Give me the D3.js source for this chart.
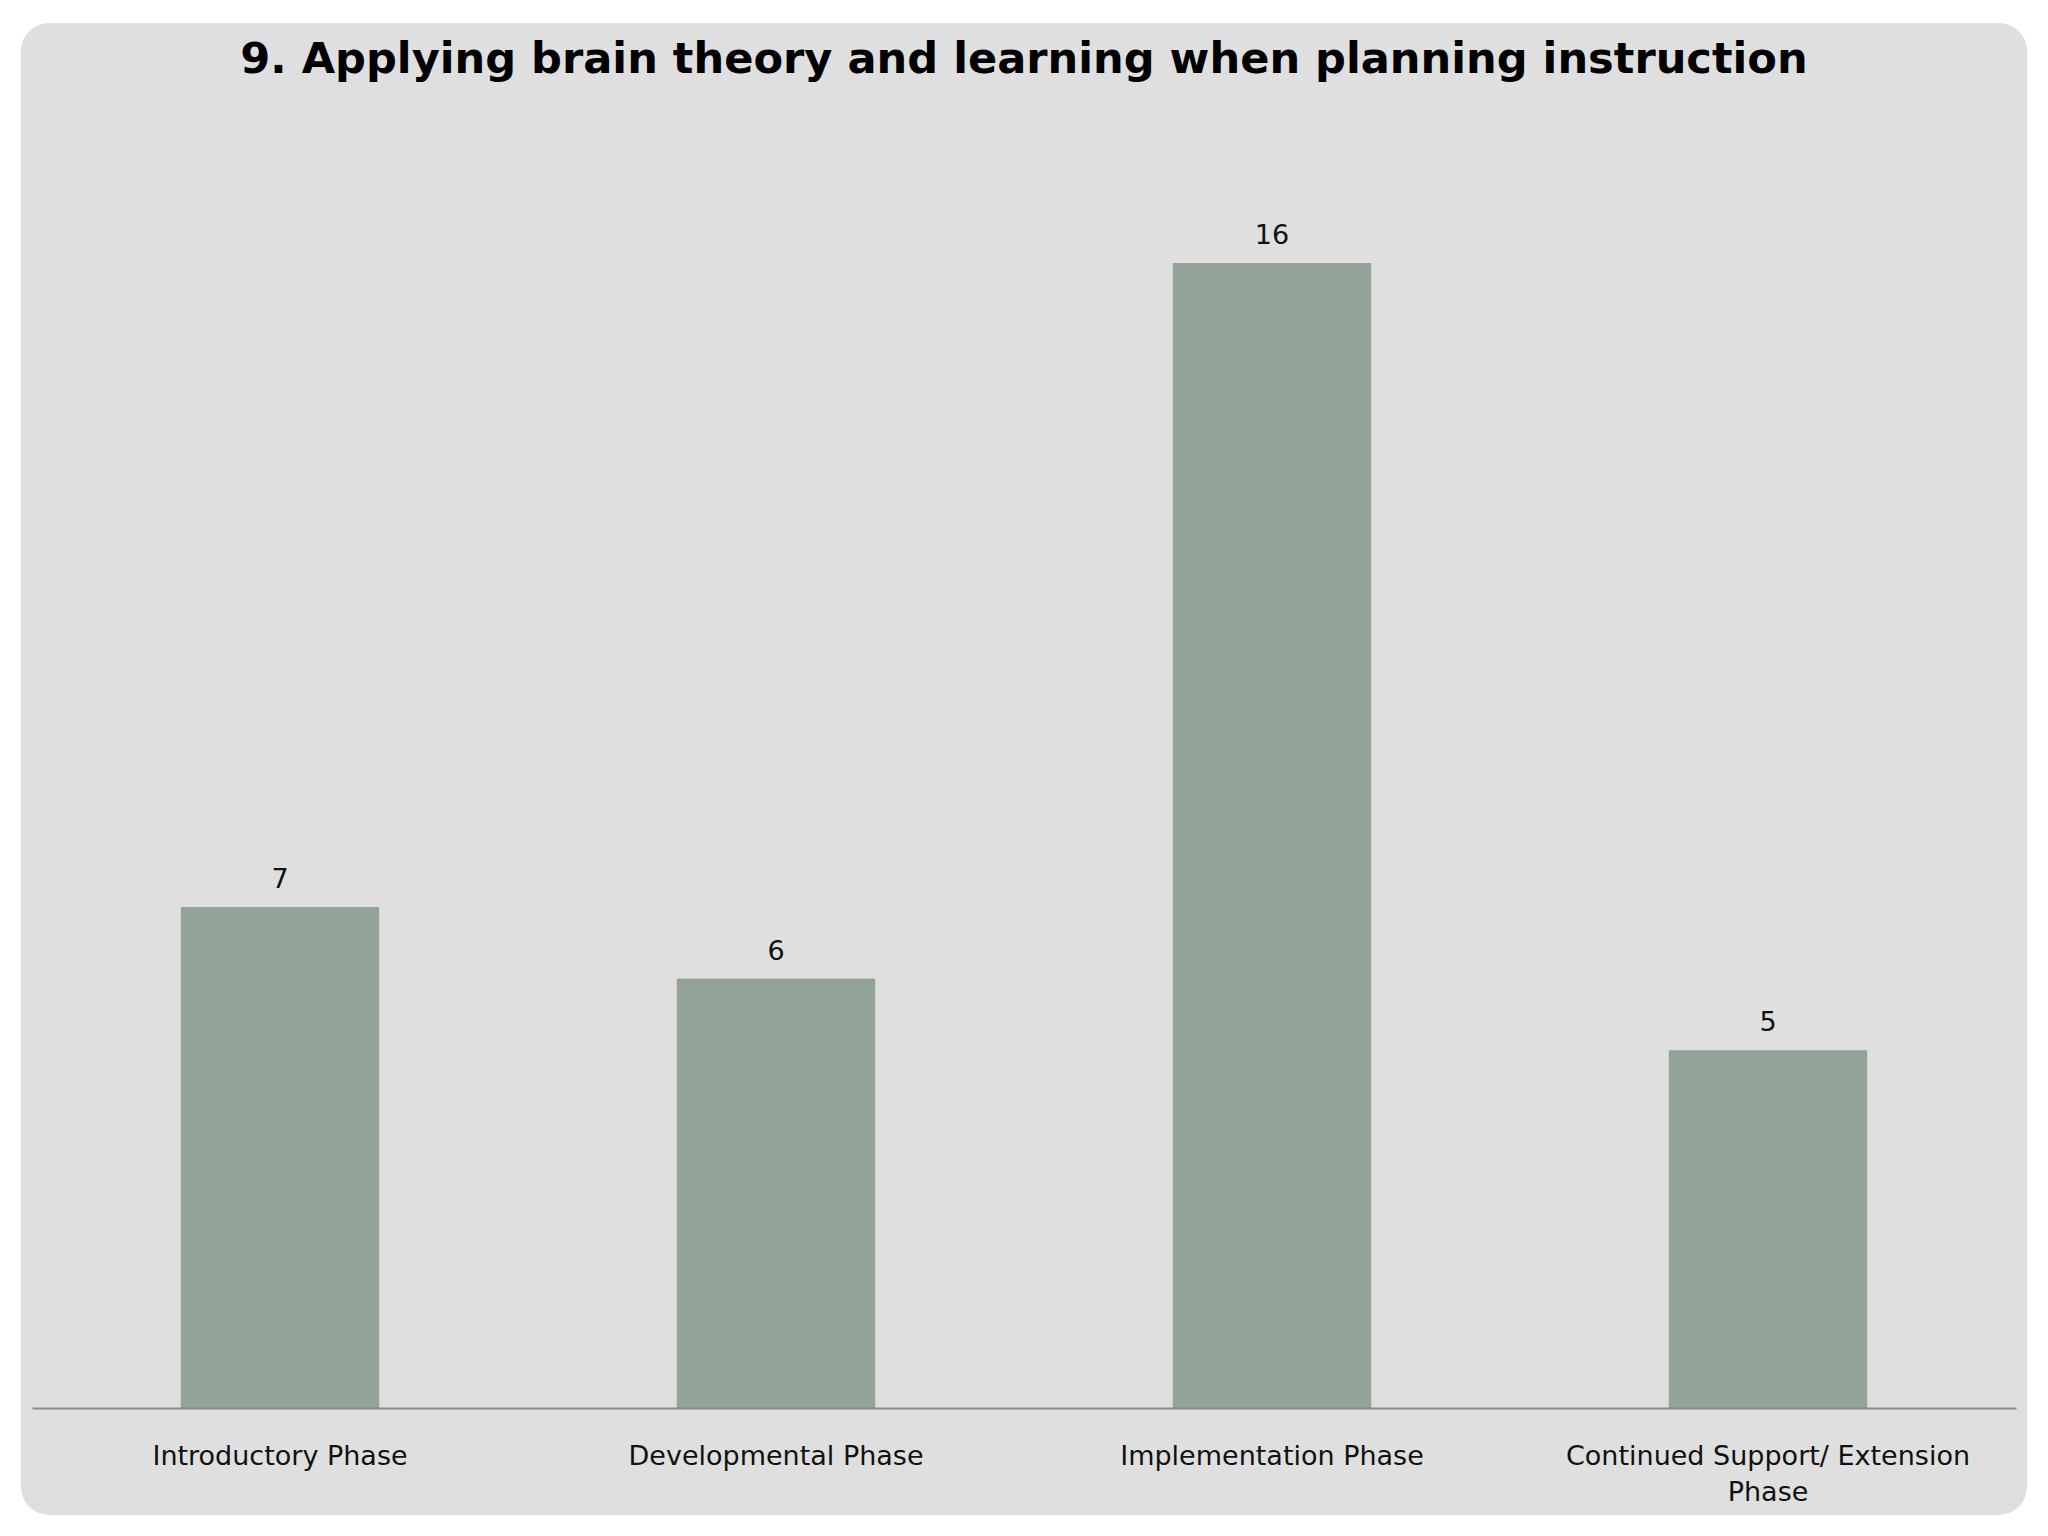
<!DOCTYPE html>
<html>
<head>
<meta charset="utf-8">
<script src="https://cdn.jsdelivr.net/npm/d3@7"></script>
<style>
  body { margin: 0; background: #fff; }
  text { font-family: "DejaVu Sans", sans-serif; fill: #111; }
</style>
</head>
<body>
<script>
// DATA
var categories = ["Introductory Phase", "Developmental Phase", "Implementation Phase", "Continued Support/ Extension Phase"];
var values = [7, 6, 16, 5];
var title = "9. Applying brain theory and learning when planning instruction";

// dimensions
var width = 2048,
  height = 1536,
  axisY = 1408,
  left = 32,
  right = 2016;

var svg = d3.select("body").append("svg")
  .attr("width", width)
  .attr("height", height);

// slide card
svg.append("rect")
  .attr("x", 21)
  .attr("y", 23)
  .attr("width", 2006)
  .attr("height", 1492)
  .attr("rx", 28)
  .style("fill", "#e0dfe0");

// title
var t = svg.append("text")
  .attr("x", 1024)
  .attr("y", 73)
  .attr("text-anchor", "middle")
  .style("font-weight", "bold")
  .style("font-size", "50px")
  .style("fill", "#000")
  .text(title);
// fit title to the reference width
var tw = t.node().getComputedTextLength();
t.style("font-size", (50 * 1568 / tw) + "px");

// scales
var x = d3.scaleBand()
  .domain(categories)
  .range([left, right])
  .paddingInner(0.6)
  .paddingOuter(0.3);

var y = d3.scaleLinear()
  .domain([0, 16])
  .range([axisY, 263]);

// bars
svg.selectAll("rect.bar")
  .data(values)
  .enter().append("rect")
  .attr("class", "bar")
  .attr("x", function (d, i) { return x(categories[i]); })
  .attr("y", function (d) { return y(d); })
  .attr("width", x.bandwidth())
  .attr("height", function (d) { return axisY - y(d); })
  .style("fill", "#93a398");

// value labels
svg.selectAll("text.val")
  .data(values)
  .enter().append("text")
  .attr("class", "val")
  .attr("x", function (d, i) { return x(categories[i]) + x.bandwidth() / 2; })
  .attr("y", function (d) { return y(d) - 19; })
  .attr("text-anchor", "middle")
  .style("font-size", "27px")
  .text(function (d) { return d; });

// axis
var axis = svg.append("g")
  .attr("transform", "translate(0," + axisY + ")")
  .call(d3.axisBottom(x).tickSize(0).tickPadding(0));
axis.select(".domain")
  .attr("stroke", "#8a8a8a")
  .attr("stroke-width", 2);
axis.selectAll(".tick text").remove();

// category labels, wrapped like the slide
var maxW = 450;
axis.selectAll(".tick").each(function (d) {
  var g = d3.select(this);
  var txt = g.append("text")
    .attr("text-anchor", "middle")
    .attr("y", 57)
    .style("font-size", "27px")
    .style("fill", "#111");
  var words = d.split(" "),
    line = [],
    lines = [];
  var probe = txt.append("tspan");
  words.forEach(function (w) {
    line.push(w);
    probe.text(line.join(" "));
    if (probe.node().getComputedTextLength() > maxW && line.length > 1) {
      line.pop();
      lines.push(line.join(" "));
      line = [w];
    }
  });
  lines.push(line.join(" "));
  probe.remove();
  lines.forEach(function (l, k) {
    txt.append("tspan")
      .attr("x", 0)
      .attr("dy", k === 0 ? 0 : 36)
      .text(l);
  });
});
</script>
</body>
</html>
